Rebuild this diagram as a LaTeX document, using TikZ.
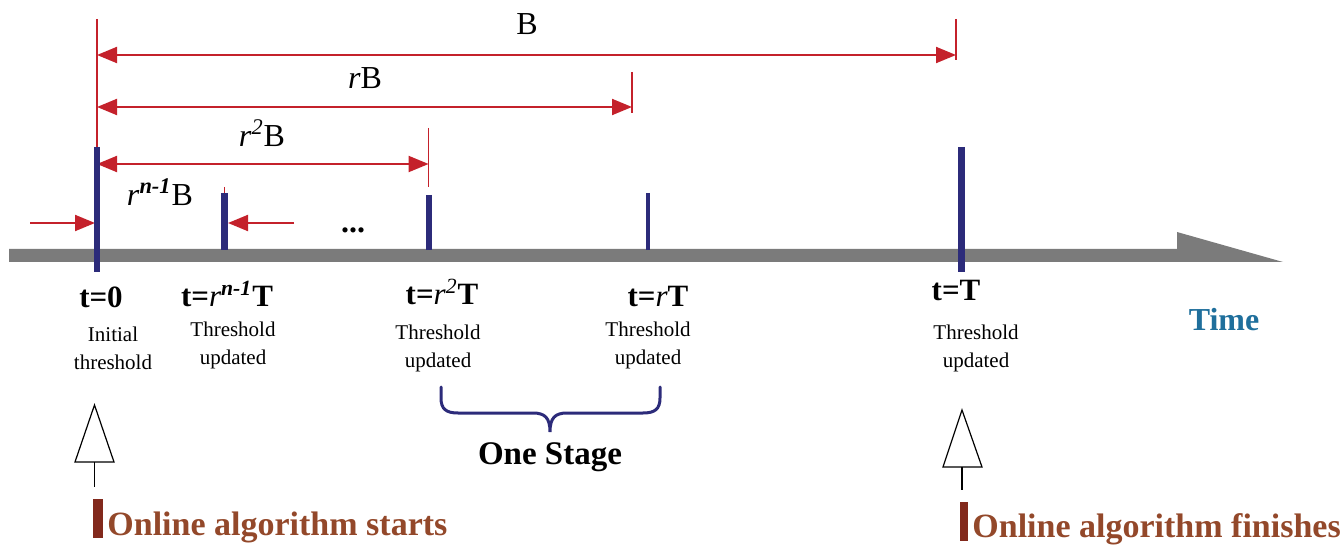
\documentclass[tikz,border=0pt]{standalone}
\usepackage{fontspec}
\setmainfont{Liberation Serif}
\usetikzlibrary{arrows.meta}
\definecolor{dimred}{HTML}{C4212B}
\definecolor{navy}{HTML}{2C2B7A}
\definecolor{axisgray}{HTML}{7B7B7B}
\definecolor{brownbar}{HTML}{82291C}
\definecolor{browntext}{HTML}{93482A}
\definecolor{timeblue}{HTML}{1F6F9C}
\begin{document}
\begin{tikzpicture}[x=0.5pt,y=-0.5pt,
  dimline/.style={draw=dimred,line width=1pt,{Triangle[length=10pt,width=8pt]}-{Triangle[length=10pt,width=8pt]}},
  onearrow/.style={draw=dimred,line width=1pt,-{Triangle[length=10pt,width=8pt]}},
  dimtick/.style={draw=dimred,line width=0.8pt},
  tickbar/.style={draw=navy},
  dimlabel/.style={font=\fontsize{16}{18}\selectfont,inner sep=0pt},
  tlabel/.style={font=\fontsize{15.5}{18}\selectfont\bfseries,inner sep=0pt},
  note/.style={font=\fontsize{10.5}{14}\selectfont,align=center,inner sep=0pt},
  hollow/.style={draw=black,line width=0.6pt,fill=white},
  markbar/.style={fill=brownbar,draw=none},
  bigtext/.style={font=\fontsize{17}{20}\selectfont\bfseries,text=browntext,inner sep=0pt,anchor=base west}]
\useasboundingbox (0,0) rectangle (1344,545);

% time axis
\fill[axisgray] (9,249) -- (1177,249) -- (1177,232) -- (1283,262) -- (9,262) -- cycle;
\node[font=\fontsize{16}{18}\selectfont\bfseries,text=timeblue,inner sep=0pt] (time) at (1224,320) {Time};

% dimension ticks
\coordinate (tB0) at (97,19);   \coordinate (tB1) at (97,147);
\coordinate (tBe0) at (956,19); \coordinate (tBe1) at (956,60);
\coordinate (trB0) at (632,72); \coordinate (trB1) at (632,113);
\coordinate (tr2B0) at (428.6,128); \coordinate (tr2B1) at (428.6,187);
\coordinate (tn0) at (224.5,187); \coordinate (tn1) at (224.5,195);
\draw[dimtick] (tB0) -- (tB1);
\draw[dimtick] (tBe0) -- (tBe1);
\draw[dimtick] (trB0) -- (trB1);
\draw[dimtick] (tr2B0) -- (tr2B1);
\draw[dimtick] (tn0) -- (tn1);

% dimension lines
\coordinate (bL) at (97,55);  \coordinate (bR) at (956,55);
\coordinate (rbL) at (97,107); \coordinate (rbR) at (632,107);
\coordinate (r2L) at (97,164); \coordinate (r2R) at (428.6,164);
\coordinate (s1a) at (30,223); \coordinate (s1b) at (95,223);
\coordinate (s2a) at (294,223); \coordinate (s2b) at (228,223);
\draw[dimline] (bL) -- (bR);
\draw[dimline] (rbL) -- (rbR);
\draw[dimline] (r2L) -- (r2R);
\draw[onearrow] (s1a) -- (s1b);
\draw[onearrow] (s2a) -- (s2b);

\node[dimlabel] (lB) at (527,24) {B};
\node[dimlabel] (lrB) at (365,78) {\textit{r}B};
\node[dimlabel] (lr2B) at (262,133) {\textit{r}\textsuperscript{\textit{2}}B};
\node[dimlabel] (lrnB) at (160,192) {\textit{r}\textsuperscript{\textbf{\textit{n-1}}}B};
\node[font=\fontsize{16}{18}\selectfont\bfseries,inner sep=0pt] (dots) at (353,230) {...};

% threshold bars
\coordinate (p0a) at (97,147);    \coordinate (p0b) at (97,272);
\coordinate (p1a) at (224.5,193); \coordinate (p1b) at (224.5,250);
\coordinate (p2a) at (429,195);   \coordinate (p2b) at (429,250);
\coordinate (p3a) at (648,193);   \coordinate (p3b) at (648,250);
\coordinate (p4a) at (961.5,147); \coordinate (p4b) at (961.5,272);
\draw[tickbar,line width=2.6pt] (p0a) -- (p0b);
\draw[tickbar,line width=3.4pt] (p1a) -- (p1b);
\draw[tickbar,line width=3.3pt] (p2a) -- (p2b);
\draw[tickbar,line width=2.4pt] (p3a) -- (p3b);
\draw[tickbar,line width=3.8pt] (p4a) -- (p4b);

% time labels
\node[tlabel] (t0) at (101,297) {t=0};
\node[tlabel] (t1) at (227,294) {t={\mdseries\itshape r}\textsuperscript{\itshape n-1}T};
\node[tlabel] (t2) at (442,292) {t={\mdseries\itshape r}\textsuperscript{\mdseries\itshape 2}T};
\node[tlabel] (t3) at (658,297) {t={\mdseries\itshape r}T};
\node[tlabel] (t4) at (956,291) {t=T};

\node[note] (n0) at (113,348) {Initial\\threshold};
\node[note] (n1) at (233,345) {Threshold\\updated};
\node[note] (n2) at (438,348) {Threshold\\updated};
\node[note] (n3) at (648,345) {Threshold\\updated};
\node[note] (n4) at (976,348) {Threshold\\updated};

% one stage brace
\draw[navy,line width=1.5pt,line cap=round]
  (441,387) -- (441,398) .. controls (441,409) and (446,413) .. (458,413)
  -- (533,413) .. controls (545,413) and (550,418) .. (550,432)
  .. controls (550,418) and (555,413) .. (567,413)
  -- (643,413) .. controls (655,413) and (660,409) .. (660,398) -- (660,387);
\node[font=\fontsize{16.5}{20}\selectfont\bfseries,inner sep=0pt] (stage) at (550,457) {One Stage};

% hollow arrows
\coordinate (h0tip) at (94.5,405); \coordinate (h0r) at (114,462); \coordinate (h0l) at (75,462);
\coordinate (h0b) at (94.5,462); \coordinate (h0s) at (94.5,487);
\draw[hollow] (h0tip) -- (h0r) -- (h0l) -- cycle;
\draw[black,line width=0.6pt] (h0b) -- (h0s);
\coordinate (h1tip) at (962,410); \coordinate (h1r) at (982,467); \coordinate (h1l) at (943,467);
\coordinate (h1b) at (962,467); \coordinate (h1s) at (962,490);
\draw[hollow] (h1tip) -- (h1r) -- (h1l) -- cycle;
\draw[black,line width=0.6pt] (h1b) -- (h1s);

% start / finish
\fill[markbar] (93,499) rectangle (103,538);
\node[bigtext] (start) at (107,535) {Online algorithm starts};
\fill[markbar] (960,502) rectangle (968,541);
\node[bigtext] (finish) at (972,537) {Online algorithm finishes};
\end{tikzpicture}
\end{document}
